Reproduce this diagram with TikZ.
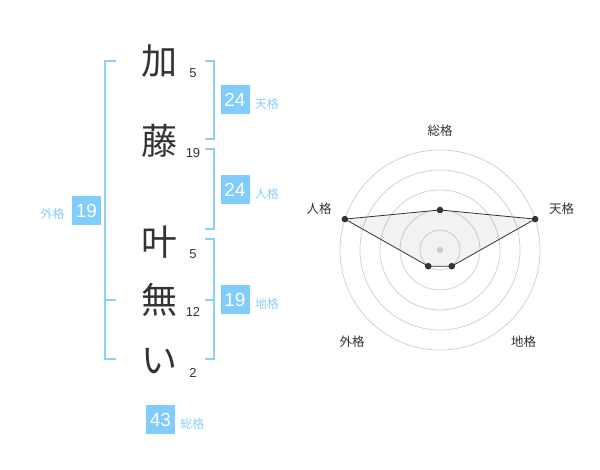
\documentclass[tikz,border=0pt]{standalone}
\usepackage{fontspec}
\setmainfont{Liberation Sans}
\newfontfamily\cjk{Noto Sans CJK JP}
\usetikzlibrary{positioning}
\definecolor{ink}{HTML}{333333}
\definecolor{boxblue}{HTML}{80CCFC}
\definecolor{lineblue}{HTML}{8CD0FA}
\definecolor{labelblue}{HTML}{8CCFF5}
\definecolor{ringgray}{HTML}{CCCCCC}

\begin{document}
\begin{tikzpicture}[
    x=1pt, y=-1pt,
    kanji/.style={inner sep=0pt, text=ink, font=\cjk\fontsize{36}{36}\selectfont},
    strokes/.style={inner sep=0pt, text=ink, font=\fontsize{13}{13}\selectfont},
    score/.style={fill=boxblue, text=white, minimum width=29pt, minimum height=29pt, inner sep=0pt, font=\fontsize{19}{19}\selectfont},
    kaku/.style={inner sep=0pt, text=labelblue, font=\cjk\fontsize{12}{12}\selectfont},
    bracket/.style={draw=lineblue, line width=2pt},
    ring/.style={draw=ringgray, line width=0.7pt},
    axislabel/.style={inner sep=0pt, text=ink, font=\cjk\fontsize{12.5}{12.5}\selectfont}
]
    \useasboundingbox (0,0) rectangle (600,470);

    % Name characters with stroke counts
    \foreach \n/\ch/\y/\s in {ka/加/61/5, fuji/藤/141/19, kano/叶/242/5, mu/無/300/12, i/い/361/2} {
        \node [kanji] (\n) at (159,\y) {\ch};
        \node [strokes] (\n-s) at (193,\y+12) {\s};
    }

    % Brackets
    \draw [bracket] (115.7,60.7) -| (105,359.3) -- (115.7,359.3);
    \draw [bracket] (105,300) -- (115.7,300);
    \draw [bracket] (205,60.7) -| (214,139.3) -- (205,139.3);
    \draw [bracket] (205,149.3) -| (214,229.3) -- (205,229.3);
    \draw [bracket] (205,239.3) -| (214,359.3) -- (205,359.3);
    \draw [bracket] (205,300) -- (214,300);

    % Scores
    \node [score] (ten) at (235,100) {24};
    \node [score] (jin) at (235,190) {24};
    \node [score] (chi) at (235,300) {19};
    \node [score] (gai) at (86.5,210.5) {19};
    \node [score] (sou) at (160.5,419.5) {43};
    \foreach \b/\lab in {ten/天格, jin/人格, chi/地格, sou/総格} {
        \node [kaku, anchor=west] (\b-l) at ([xshift=5pt, yshift=-4pt]\b.east) {\lab};
    }
    \node [kaku, anchor=east] (gai-l) at ([xshift=-7pt, yshift=-3pt]gai.west) {外格};

    % Radar chart
    \coordinate (c) at (440,250);
    \foreach \r in {20,40,60,80,100} {
        \draw [ring] (c) circle (\r pt);
    }
    \foreach \n/\a/\r in {sou/-90/40, ten/-18/100, chi/54/20, gai/126/20, jin/198/100} {
        \path (c) ++(\a:\r) coordinate (r-\n);
    }
    \draw [ink, line width=0.8pt, fill=black, fill opacity=0.05] (r-sou) -- (r-ten) -- (r-chi) -- (r-gai) -- (r-jin) -- cycle;
    \fill [ringgray] (c) circle (3.3pt);
    \foreach \n in {sou,ten,chi,gai,jin} {
        \fill [ink] (r-\n) circle (3.3pt);
    }
    \node [axislabel] (a-sou) at (440,130.7) {総格};
    \node [axislabel] (a-ten) at (561.5,208.3) {天格};
    \node [axislabel] (a-jin) at (319,208.3) {人格};
    \node [axislabel] (a-gai) at (352,341.7) {外格};
    \node [axislabel] (a-chi) at (523.5,341.7) {地格};
\end{tikzpicture}
\end{document}
